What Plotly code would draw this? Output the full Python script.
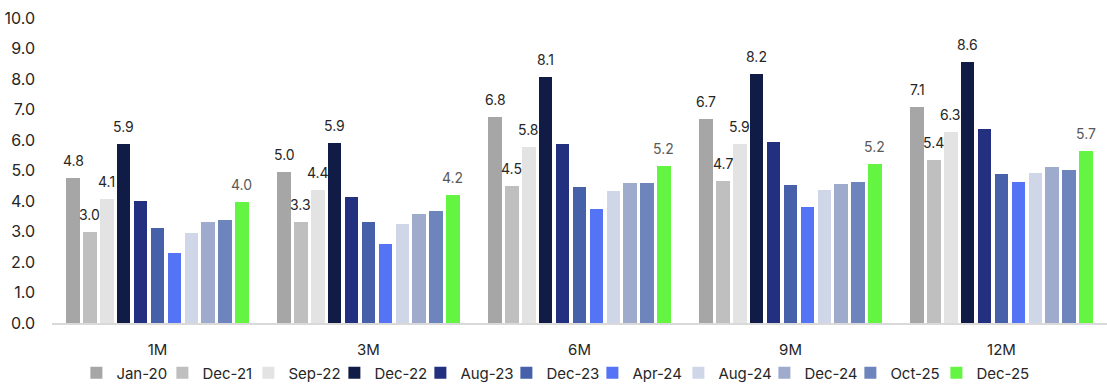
import plotly.graph_objects as go

categories = ["1M", "3M", "6M", "9M", "12M"]

jan20 = [4.76, 4.96, 6.76, 6.68, 7.09]
dec21 = [2.98, 3.31, 4.50, 4.67, 5.36]
sep22 = [4.07, 4.36, 5.76, 5.86, 6.27]
dec22 = [5.88, 5.90, 8.07, 8.15, 8.57]
aug23 = [4.01, 4.13, 5.86, 5.94, 6.35]
dec23 = [3.13, 3.31, 4.46, 4.52, 4.89]
apr24 = [2.28, 2.58, 3.74, 3.80, 4.62]
aug24 = [2.95, 3.26, 4.33, 4.35, 4.92]
dec24 = [3.30, 3.56, 4.59, 4.57, 5.11]
oct25 = [3.39, 3.66, 4.59, 4.62, 5.03]
dec25 = [3.98, 4.19, 5.16, 5.20, 5.65]

series_names = ["Jan-20", "Dec-21", "Sep-22", "Dec-22", "Aug-23", "Dec-23",
                "Apr-24", "Aug-24", "Dec-24", "Oct-25", "Dec-25"]
series_values = [jan20, dec21, sep22, dec22, aug23, dec23,
                 apr24, aug24, dec24, oct25, dec25]
labelled = ["Jan-20", "Dec-21", "Sep-22", "Dec-22", "Dec-25"]

colors = ["#a6a6a6", "#bfbfbf", "#e3e3e3", "#111c46", "#23307f", "#4660aa",
          "#5473f5", "#cfd6e8", "#9eabcd", "#6e84bd", "#64f542"]
label_colors = {"Dec-25": "#595959"}

FONT = "Inter, Roboto, Arial, sans-serif"
n = len(series_names)
slot = 0.08
bar_w = 0.063

fig = go.Figure()
annotations = []
for i, (name, vals, col) in enumerate(zip(series_names, series_values, colors)):
    xs = [g + (i - (n - 1) / 2) * slot for g in range(len(categories))]
    fig.add_trace(go.Bar(
        x=xs, y=vals, name=name, width=bar_w,
        marker=dict(color=col, line=dict(width=0)),
        hovertemplate=name + " %{y:.1f}<extra></extra>",
    ))
    if name in labelled:
        for x, v in zip(xs, vals):
            annotations.append(dict(
                x=x, y=v, xref="x", yref="y", text=f"{v:.1f}",
                showarrow=False, yanchor="bottom", yshift=7,
                font=dict(family=FONT, size=14, color=label_colors.get(name, "#262626")),
            ))

# invisible spacer entry so the last legend label is not clipped
fig.add_trace(go.Bar(x=[None], y=[None], name=" ", showlegend=True,
                     marker=dict(color="rgba(0,0,0,0)",
                                 line=dict(width=0, color="rgba(0,0,0,0)")),
                     hoverinfo="skip"))

fig.update_layout(
    width=1107, height=387,
    margin=dict(l=52, r=0, t=18, b=64, autoexpand=False),
    paper_bgcolor="white", plot_bgcolor="white",
    font=dict(family=FONT, size=15, color="#262626"),
    showlegend=True,
    legend=dict(orientation="h", xref="container", x=0.069, xanchor="left",
                yref="container", y=0.036, yanchor="middle",
                bgcolor="rgba(0,0,0,0)",
                font=dict(family=FONT, size=15, color="#262626"),
                itemwidth=30, entrywidth=41, tracegroupgap=0),
    annotations=annotations,
    bargap=0,
)
fig.update_xaxes(
    range=[-0.5, len(categories) - 0.5],
    tickvals=list(range(len(categories))), ticktext=categories,
    showgrid=False, zeroline=False, automargin=False,
    showline=True, linecolor="#d9d9d9", linewidth=2,
    ticks="", ticklabelstandoff=12,
    tickfont=dict(family=FONT, size=15, color="#262626"),
)
fig.update_yaxes(
    range=[0, 10], dtick=1, tickformat=".1f",
    showgrid=False, zeroline=False, showline=False, automargin=False,
    ticks="", ticklabelstandoff=16,
    tickfont=dict(family=FONT, size=16, color="#262626"),
)

fig.write_html(
    "out.html",
    config={"displayModeBar": False},
    post_script="document.body.style.margin='0';document.body.style.overflow='hidden';",
)
